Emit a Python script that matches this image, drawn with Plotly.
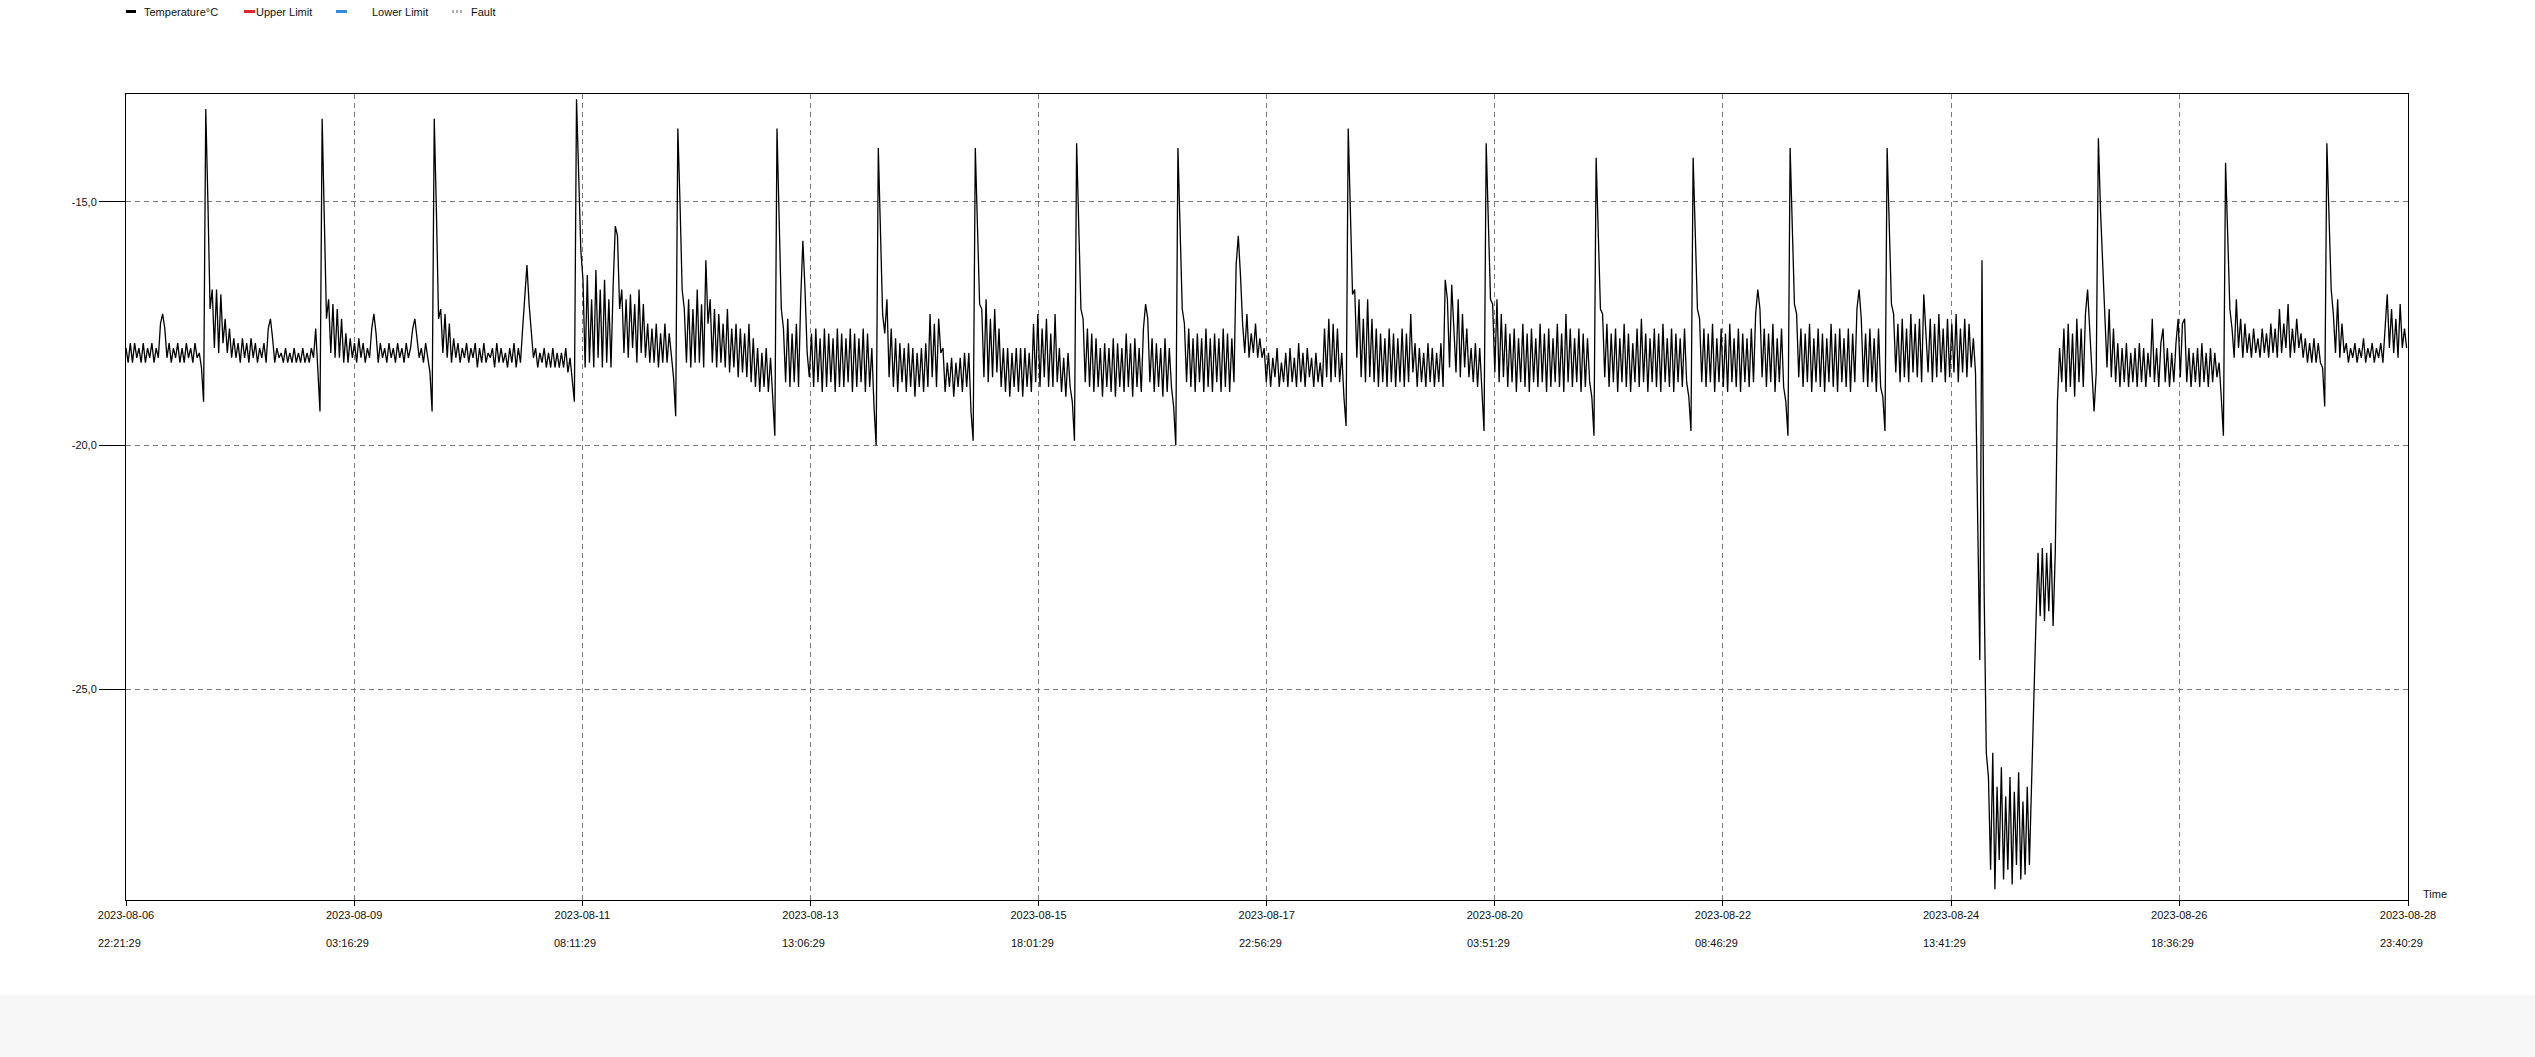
import pandas as pd
import plotly.graph_objects as go

# ---------------- data (values in tenths of a degree C, one sample every 30 min) ----------------
START = "2023-08-06 22:21:29"
END = "2023-08-28 23:40:29"
SAMPLE_MINUTES = 30

temp_seg00 = [-180,-183,-179,-183,-179,-182,-180,-183,-179,-183,-180,-182,-179,-183,-180,-182,-175,-173,-176,-182,
              -179,-183,-180,-182,-179,-183,-180,-183,-179,-182,-180,-183,-179,-182,-181,-184]
temp_seg01 = [-191,-131,-150,-172,-168,-180,-168,-181,-169,-179,-174,-181,-176,-182,-178,-182,-179,-183,-178,-182,
              -179,-183,-178,-182,-179,-183,-180,-182,-179,-183,-176,-174,-178,-183,-180,-182,-181,-183,-180,-183,
              -181,-183,-180,-183,-181,-183,-180,-183,-181,-183,-180,-182,-176,-184]
temp_seg02 = [-193,-133,-152,-174,-170,-181,-171,-182,-172,-182,-174,-183,-177,-183,-178,-182,-179,-183,-178,-182,
              -179,-183,-180,-182,-176,-173,-177,-183,-179,-182,-180,-183,-179,-182,-180,-183,-179,-182,-180,-183,
              -179,-182,-180,-176,-174,-178,-182,-180,-183,-179,-182,-185]
temp_seg03 = [-193,-133,-152,-174,-172,-181,-173,-182,-175,-183,-178,-182,-179,-183,-180,-182,-179,-183,-180,-182,
              -179,-184,-180,-183,-179,-183,-181,-182,-180,-184,-179,-183,-180,-183,-181,-184,-180,-183,-179,-184,
              -180,-183,-176,-170,-163,-171,-177,-182,-180,-184,-181,-183,-180,-184,-181,-184,-180,-184,-181,-184,
              -181,-184,-180,-185,-182,-186]
temp_seg04 = [-191,-129,-145,-160,-166,-184,-165,-183,-170,-184,-164,-182,-168,-184,-166,-183,-170,-184,-167,-155,
              -157,-172,-168,-181,-170,-182,-169,-180,-171,-183,-168,-181,-171,-182,-175,-183,-176,-183,-175,-184,
              -177,-183,-175,-183,-177,-182,-186]
temp_seg05 = [-194,-135,-150,-168,-172,-183,-170,-184,-172,-183,-168,-183,-171,-184,-162,-175,-170,-183,-172,-184,
              -173,-183,-175,-184,-172,-185,-176,-184,-175,-186,-176,-185,-177,-186,-175,-187,-178,-188,-180,-189,
              -181,-188,-180,-189,-182,-190]
temp_seg06 = [-198,-135,-152,-172,-176,-187,-174,-188,-177,-187,-175,-188,-170,-158,-168,-181,-186,-177,-188,-176,
              -187,-178,-189,-176,-188,-177,-187,-178,-189,-176,-188,-177,-188,-178,-187,-176,-189,-177,-188,-178,
              -187,-176,-189,-177,-188,-180,-192]
temp_seg07 = [-200,-139,-155,-173,-177,-170,-186,-176,-188,-178,-189,-179,-187,-180,-189,-179,-188,-180,-190,-181,
              -188,-180,-189,-179,-188,-173,-186,-175,-188,-174,-181,-180,-189,-183,-188,-182,-190,-183,-188,-182,
              -189,-181,-188,-181,-193]
temp_seg08 = [-199,-139,-155,-171,-172,-186,-170,-187,-174,-186,-172,-185,-176,-188,-180,-189,-180,-190,-181,-188,
              -180,-189,-180,-190,-180,-188,-181,-189,-175,-187,-173,-188,-176,-186,-174,-188,-177,-188,-173,-187,
              -180,-189,-182,-190,-181,-188,-191]
temp_seg09 = [-199,-138,-154,-172,-174,-187,-176,-188,-177,-189,-178,-188,-180,-190,-179,-188,-180,-189,-178,-190,
              -179,-188,-180,-189,-177,-188,-179,-190,-178,-188,-180,-189,-176,-171,-174,-187,-178,-189,-179,-188,
              -180,-190,-178,-189,-180,-188,-192]
temp_seg10 = [-200,-139,-155,-172,-175,-187,-176,-188,-178,-189,-177,-187,-178,-189,-176,-188,-178,-189,-177,-187,
              -178,-189,-176,-188,-177,-189,-178,-187,-163,-157,-165,-175,-181,-173,-182,-177,-181,-175,-182,-178,
              -182,-180,-187,-181,-188,-182,-186,-180,-188,-183,-187,-181,-188,-180,-187,-182,-188,-179,-187,-181,
              -188,-180,-186,-182,-188,-181,-187,-183,-188,-176,-186,-174,-187,-175,-186,-176,-187,-181,-190]
temp_seg11 = [-196,-135,-152,-169,-168,-182,-170,-186,-174,-187,-170,-186,-174,-187,-176,-188,-177,-187,-178,-188,
              -176,-187,-177,-188,-178,-187,-176,-188,-177,-187,-173,-185,-179,-188,-180,-187,-181,-188,-179,-187,
              -180,-188,-181,-187,-179,-188,-166,-170,-184,-167,-176,-185,-170,-186,-173,-184,-176,-186,-180,-187,
              -179,-188,-180,-190]
temp_seg12 = [-197,-138,-155,-170,-171,-185,-170,-187,-173,-186,-175,-188,-177,-187,-176,-189,-178,-187,-175,-188,
              -177,-189,-176,-187,-178,-188,-175,-187,-177,-189,-176,-188,-178,-187,-175,-188,-177,-189,-173,-187,
              -176,-188,-178,-187,-176,-189,-177,-188,-178,-187,-190]
temp_seg13 = [-198,-141,-157,-172,-173,-186,-175,-188,-177,-187,-176,-189,-178,-187,-175,-188,-177,-189,-179,-187,
              -176,-188,-174,-187,-177,-189,-178,-187,-176,-188,-177,-189,-175,-187,-178,-188,-176,-189,-177,-187,
              -178,-188,-176,-187,-190]
temp_seg14 = [-197,-141,-157,-172,-174,-187,-176,-188,-177,-187,-175,-189,-178,-187,-176,-188,-177,-189,-175,-187,
              -178,-188,-176,-189,-177,-187,-178,-188,-176,-187,-173,-168,-172,-186,-176,-188,-177,-187,-175,-189,
              -178,-187,-176,-188,-191]
temp_seg15 = [-198,-139,-155,-171,-173,-186,-176,-188,-177,-187,-175,-189,-178,-187,-176,-188,-177,-189,-178,-187,
              -175,-188,-177,-189,-176,-187,-178,-188,-176,-189,-177,-187,-172,-168,-174,-187,-177,-188,-176,-187,
              -178,-189,-176,-188,-190]
temp_seg16 = [-197,-139,-155,-171,
              -173,-185,-175,-187,-174,-186,-176,-187,-173,-185,-175,-186,-174,-187,-169,-176,-185,-174,-187,-175,
              -186,-173,-185,-176,-187,-174,-186,-175,-185,-173,-187,-176,-185,-174,-186,-175,-184,-178,
              -185,-215,-244,-162,-230,-263,
              -268,-287,-263,-291,-270,-285,-266,-289,-272,-287,-268,-290,-271,-286,-267,-289,-273,-288,-270,-286,
              -266,-253,-237,-222,
              -235,-221,-236,-222,-234,-220,-237,-222,
              -191,-180,-187,-176,-189,-175,-188,-177,-190,-174,-187,-176,-188,-173,-168,-176,-183,-193]
temp_seg17 = [-185,-137,-152,-163,-174,-184,-172,-186,-176,-187,-179,-188,-180,-187,-179,-188,-181,-187,-180,-188,
              -179,-187,-180,-188,-181,-186,-174,-187,-180,-188,-179,-176,-187,-180,-188,-181,-187,-179,-174,-186,
              -175,-174,-187,-180,-188,-181,-187,-180,-188,-179,-187,-181,-188,-180,-187,-181,-186,-183,-190]
temp_seg18 = [-198,-142,-158,-172,-176,-182,-170,-180,-174,-182,-175,-181,-177,-182,-176,-181,-178,-182,-176,-181,
              -177,-182,-175,-181,-176,-182,-172,-181,-175,-180,-171,-182,-176,-181,-174,-180,-177,-182,-178,-183,
              -179,-183,-178,-183,-179,-183,-184]
temp_seg19 = [-192,-138,-152,-168,-173,-181,-170,-182,-175,-181,-179,-183,-180,-182,-179,-183,-180,-182,-178,-183,
              -180,-182,-179,-183,-180,-182,-179,-183,-176,-169,-180,-172,-181,-174,-182,-171,-180,-176,-180]

segments = [temp_seg00, temp_seg01, temp_seg02, temp_seg03, temp_seg04, temp_seg05, temp_seg06, temp_seg07,
            temp_seg08, temp_seg09, temp_seg10, temp_seg11, temp_seg12, temp_seg13, temp_seg14, temp_seg15,
            temp_seg16, temp_seg17, temp_seg18, temp_seg19]

temperature = [v / 10 for seg in segments for v in seg]
times = pd.date_range(START, periods=len(temperature), freq=f"{SAMPLE_MINUTES}min")

x_tick_times = ["2023-08-06 22:21:29", "2023-08-09 03:16:29", "2023-08-11 08:11:29", "2023-08-13 13:06:29",
                "2023-08-15 18:01:29", "2023-08-17 22:56:29", "2023-08-20 03:51:29", "2023-08-22 08:46:29",
                "2023-08-24 13:41:29", "2023-08-26 18:36:29", "2023-08-28 23:40:29"]
x_tick_dates = [t.split(" ")[0] for t in x_tick_times]
x_tick_clock = [t.split(" ")[1] for t in x_tick_times]

y_tick_vals = [-15, -20, -25]
y_tick_text = ["-15,0", "-20,0", "-25,0"]
y_range = [-29.32, -12.79]

legend_names = ["Temperature°C", "Upper Limit", "Lower Limit", "Fault"]
legend_colors = ["#000000", "#e8232a", "#2f8be6", "#b0b0b0"]

# ---------------- figure ----------------
FONT = "Liberation Sans, Arial, sans-serif"
W, H = 2535, 995
ML, MR, MT, MB = 126, 127, 94, 95

fig = go.Figure()
fig.add_trace(go.Scatter(x=times, y=temperature, mode="lines", name=legend_names[0],
                         line=dict(color="black", width=1.3, shape="linear"), showlegend=False))

grid = dict(showgrid=True, gridcolor="#7a7a7a", gridwidth=1, griddash="5px,4px", zeroline=False,
            showline=True, linecolor="black", linewidth=1, mirror=True,
            ticks="outside", tickcolor="black", tickwidth=1,
            tickfont=dict(family=FONT, size=11, color="#111"))

fig.update_xaxes(type="date", range=[START, END], tickmode="array", tickvals=x_tick_times,
                 ticktext=x_tick_dates, ticklen=5, **grid)
fig.update_yaxes(range=y_range, tickmode="array", tickvals=y_tick_vals, ticktext=y_tick_text,
                 ticklen=26, **grid)

annotations = []
for t, c in zip(x_tick_times, x_tick_clock):
    annotations.append(dict(x=t, xref="x", y=0, yref="paper", text=c, showarrow=False,
                            xanchor="left", yanchor="middle", xshift=-30, yshift=-43,
                            font=dict(family=FONT, size=11, color="#111")))
annotations.append(dict(x=1, xref="paper", y=0, yref="paper", text="Time", showarrow=False,
                        xanchor="left", yanchor="middle", xshift=13, yshift=6,
                        font=dict(family=FONT, size=11, color="#111")))

legend_sym_px = [(0, 10), (118, 129), (210, 221), (326, 336)]
legend_text_px = [18, 130, 246, 345]
LEG_Y = MT - 11.5
shapes = []
for (a, b), col, name, tx in zip(legend_sym_px, legend_colors, legend_names, legend_text_px):
    shapes.append(dict(type="line", xref="paper", yref="paper", xsizemode="pixel", ysizemode="pixel",
                       xanchor=0, yanchor=1, x0=a, x1=b, y0=LEG_Y, y1=LEG_Y,
                       line=dict(color=col, width=3, dash="2px,2px" if name == "Fault" else "solid")))
    annotations.append(dict(x=0, xref="paper", y=1, yref="paper", text=name, showarrow=False,
                            xanchor="left", yanchor="middle", xshift=tx - 2, yshift=LEG_Y,
                            font=dict(family=FONT, size=11, color="#111")))

fig.update_layout(width=W, height=H, margin=dict(l=ML, r=MR, t=MT, b=MB, pad=0),
                  paper_bgcolor="white", plot_bgcolor="white", showlegend=False,
                  font=dict(family=FONT, size=11, color="#111"),
                  annotations=annotations, shapes=shapes, hovermode=False)

fig.write_html("out.html", config={"displayModeBar": False},
               post_script="document.body.style.margin='0';document.body.style.background='#f7f7f7';"
                           "document.body.style.overflow='hidden';")
